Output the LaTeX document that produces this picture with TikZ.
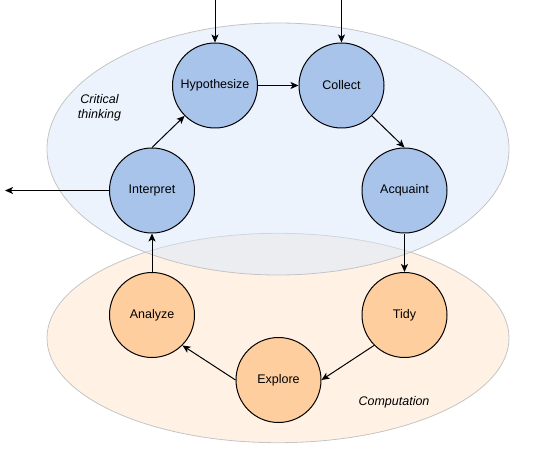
\documentclass[tikz,border=0pt]{standalone}
\usepackage{fontspec}
\setmainfont{Liberation Sans}
\usetikzlibrary{arrows.meta}
\definecolor{stepblue}{HTML}{A9C4EB}
\definecolor{steporange}{HTML}{FFCE9F}
\definecolor{zoneblue}{HTML}{DAE8FC}
\definecolor{zoneorange}{HTML}{FFE6CC}
\definecolor{zoneline}{HTML}{C4C4C4}
\begin{document}
\begin{tikzpicture}[x=1pt, y=-1pt, font=\fontsize{12.5}{15}\selectfont, line join=round, >={Stealth[length=8pt,width=7pt,inset=2pt]},
		stage/.style={circle, draw, line width=1pt, minimum size=85pt, inner sep=0pt},
		zone/.style={draw=zoneline, line width=.8pt, fill opacity=.5}]
		\useasboundingbox (0,0) rectangle (546,465);
		% the two zones
		\draw[zone, fill=zoneorange](278,338) ellipse [x radius=231, y radius=104.7];
		\draw[zone, fill=zoneblue](278,149) ellipse [x radius=231, y radius=126];
		\node[font=\fontsize{12.5}{15}\selectfont\itshape, align=center] (ct) at (99.5,108) {Critical\\thinking};
		\node[font=\fontsize{12.5}{15}\selectfont\itshape] (comp) at (394,402) {Computation};
		% the steps
		\node[stage, fill=stepblue] (hyp) at (215,85.5) {Hypothesize};
		\node[stage, fill=stepblue] (col) at (341.5,85.5) {Collect};
		\node[stage, fill=stepblue] (acq) at (404.5,190.5) {Acquaint};
		\node[stage, fill=stepblue] (int) at (152,190.5) {Interpret};
		\node[stage, fill=steporange] (tidy) at (404.5,315) {Tidy};
		\node[stage, fill=steporange] (exp) at (278.5,380) {Explore};
		\node[stage, fill=steporange] (ana) at (152,315) {Analyze};
		\coordinate (inh) at (215,0);
		\coordinate (inc) at (341.5,0);
		\coordinate (out) at (5,190.5);
		\draw[->, line width=1pt](inh)--(hyp);
		\draw[->, line width=1pt](inc)--(col);
		\draw[->, line width=1pt](hyp)--(col);
		\draw[->, line width=1pt](col.-45)--(acq.north);
		\draw[->, line width=1pt](acq)--(tidy);
		\draw[->, line width=1pt](tidy.-135)--(exp.east);
		\draw[->, line width=1pt](exp.west)--(ana.-45);
		\draw[->, line width=1pt](ana)--(int);
		\draw[->, line width=1pt](int.north)--(hyp.-135);
		\draw[->, line width=1pt](int)--(out);
	\end{tikzpicture}
\end{document}
